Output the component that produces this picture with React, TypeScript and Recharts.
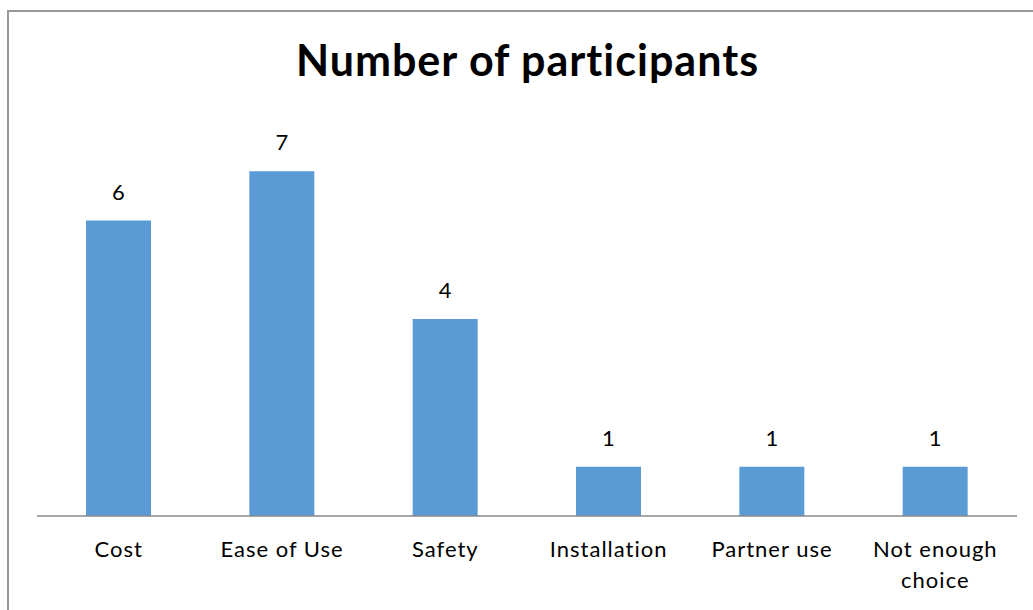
import React from "react";
import { BarChart, Bar, XAxis, YAxis, LabelList } from "recharts";

// Reasons given, number of participants for each
const categories = [
  "Cost",
  "Ease of Use",
  "Safety",
  "Installation",
  "Partner use",
  "Not enough choice",
];
const participants = [6, 7, 4, 1, 1, 1];

const data = categories.map((name, i) => ({ name, value: participants[i] }));

const FONT = "Lato, 'Open Sans', sans-serif";

// greedy wrap by character count, like the category axis wraps long names
const wrap = (s: string, max = 12) => {
  const lines: string[] = [];
  let cur = "";
  s.split(" ").forEach((w) => {
    const next = cur ? cur + " " + w : w;
    if (next.length > max && cur) {
      lines.push(cur);
      cur = w;
    } else {
      cur = next;
    }
  });
  if (cur) lines.push(cur);
  return lines;
};

const CategoryTick = (props: any) => {
  const { x, y, payload } = props;
  const lines = wrap(String(payload.value));
  return (
    <text
      x={x}
      y={y}
      textAnchor="middle"
      fontSize={22}
      fontFamily={FONT}
      letterSpacing={1}
      fill="#000"
    >
      {lines.map((l, i) => (
        <tspan key={i} x={x} dy={i === 0 ? 16 : 31}>
          {l}
        </tspan>
      ))}
    </text>
  );
};

const App: React.FC = () => {
  return (
    <div
      style={{
        position: "absolute",
        top: 0,
        left: 0,
        width: 1033,
        height: 610,
        overflow: "hidden",
        background: "#fff",
      }}
    >
      <div
        style={{
          position: "absolute",
          left: 7,
          top: 10,
          width: 1040,
          height: 620,
          borderLeft: "2px solid #999",
          borderTop: "2px solid #999",
        }}
      />
      <div
        style={{
          position: "absolute",
          top: 34,
          left: 0,
          width: 1055,
          textAlign: "center",
          fontFamily: FONT,
          fontWeight: 700,
          fontSize: 43,
          letterSpacing: 1,
          lineHeight: 1.2,
          color: "#000",
        }}
      >
        Number of participants
      </div>
      <div style={{ position: "absolute", top: 0, left: 0 }}>
        <BarChart
          width={1033}
          height={610}
          data={data}
          margin={{ top: 122, right: 16, left: 37, bottom: 34 }}
        >
          <XAxis
            dataKey="name"
            height={60}
            tickSize={0}
            tickMargin={25}
            tickLine={false}
            axisLine={{ stroke: "#888", strokeWidth: 1.5 }}
            tick={<CategoryTick />}
            interval={0}
          />
          <YAxis hide domain={[0, 8]} />
          <Bar
            dataKey="value"
            fill="#5B9BD5"
            barSize={65}
            isAnimationActive={false}
          >
            <LabelList
              dataKey="value"
              position="top"
              offset={21}
              fill="#000"
              fontSize={22}
              fontFamily={FONT}
            />
          </Bar>
        </BarChart>
      </div>
    </div>
  );
};

export default App;
